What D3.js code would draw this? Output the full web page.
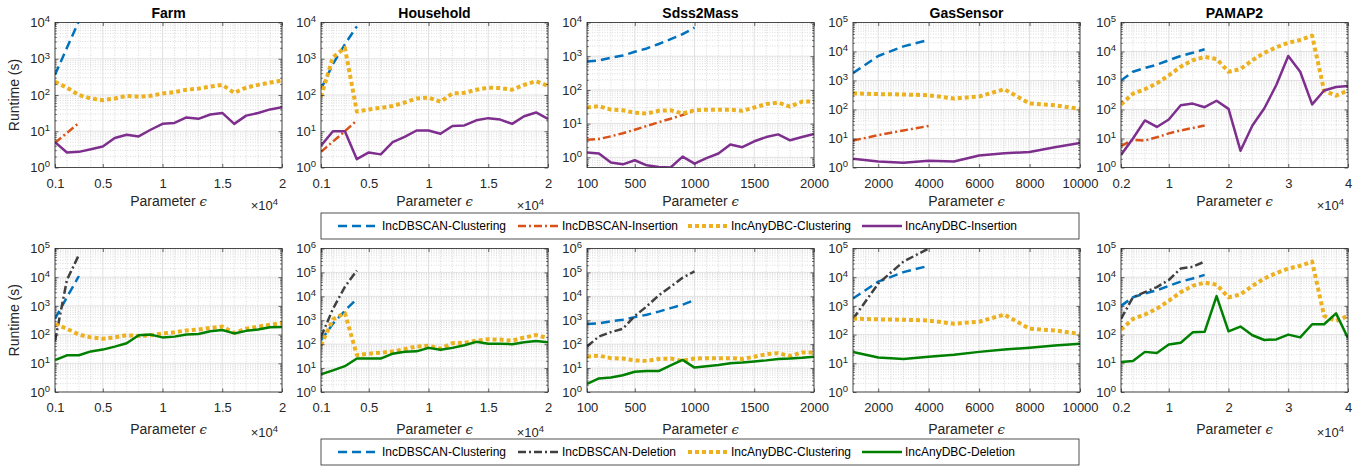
<!DOCTYPE html>
<html>
<head>
<meta charset="utf-8">
<script src="https://cdn.jsdelivr.net/npm/d3@7"></script>
<style>
  body { margin: 0; background: #fff; }
  svg { font-family: "Liberation Sans", Arial, Helvetica, sans-serif; }
</style>
</head>
<body>
<svg id="chart" width="1357" height="468"></svg>
<script>
// ---- x values (parameter epsilon) ----
const xFarm = [1000, 2000, 3000, 4000, 5000, 6000, 7000, 8000, 9000, 10000, 11000, 12000, 13000, 14000, 15000, 16000, 17000, 18000, 19000, 20000];
const xSdss = [100, 200, 300, 400, 500, 600, 700, 800, 900, 1000, 1100, 1200, 1300, 1400, 1500, 1600, 1700, 1800, 1900, 2000];
const xGas = [1000, 2000, 3000, 4000, 5000, 6000, 7000, 8000, 9000, 10000];
const xPamap = [2000, 4000, 6000, 8000, 10000, 12000, 14000, 16000, 18000, 20000, 22000, 24000, 26000, 28000, 30000, 32000, 34000, 36000, 38000, 40000];

// ---- tick labels ----
const farmTicks = [1000, 5000, 10000, 15000, 20000];
const farmTickLabels = ["0.1", "0.5", "1", "1.5", "2"];
const sdssTicks = [100, 500, 1000, 1500, 2000];
const sdssTickLabels = ["100", "500", "1000", "1500", "2000"];
const gasTicks = [2000, 4000, 6000, 8000, 10000];
const gasTickLabels = ["2000", "4000", "6000", "8000", "10000"];
const pamapTicks = [2000, 10000, 20000, 30000, 40000];
const pamapTickLabels = ["0.2", "1", "2", "3", "4"];

// ---- runtimes (s) ----
// Farm
const farmDbClu = [360, 2000, 11000];
const farmDbIns = [4.8, 9, 17];
const farmAnyClu = [230, 160, 100, 80, 72, 80, 95, 90, 95, 110, 120, 140, 150, 170, 190, 115, 160, 190, 220, 250];
const farmAnyIns = [5, 2.6, 2.7, 3.2, 3.8, 6.5, 8, 7.2, 11, 16, 17, 24, 22, 29, 32, 16, 27, 32, 40, 46];
const farmDbDel = [60, 8000, 60000];
const farmAnyDel = [13, 19, 19, 26, 30, 38, 50, 95, 100, 80, 85, 100, 105, 130, 145, 110, 135, 150, 180, 185];
// Household
const hhDbClu = [145, 720, 2500, 7800];
const hhDbIns = [2.7, 5.2, 10, 20];
const hhAnyClu = [90, 1100, 2000, 35, 40, 44, 50, 62, 80, 85, 65, 110, 115, 140, 160, 155, 140, 190, 240, 180];
const hhAnyIns = [4, 10, 10, 1.7, 2.6, 2.3, 5, 7, 10.5, 10.5, 8.5, 14, 14.5, 20, 23, 21, 16, 26, 33, 22];
const hhDbDel = [200, 3000, 25000, 120000];
const hhAnyDel = [5.5, 8, 12, 25, 25, 25, 40, 48, 50, 70, 58, 70, 90, 125, 105, 105, 100, 120, 135, 120];
// Sdss2Mass
const sdssDbClu = [700, 750, 900, 1050, 1350, 1700, 2300, 3200, 4500, 7000];
const sdssDbIns = [3.3, 3.5, 4.2, 5.2, 6.6, 8.5, 11, 14, 18, 24];
const sdssAnyClu = [30, 33, 26, 25, 21, 20, 24, 25, 20, 25, 26, 26, 26, 24, 30, 38, 42, 32, 45, 45];
const sdssAnyIns = [1.4, 1.3, 0.7, 0.62, 0.82, 0.58, 0.52, 0.5, 1.05, 0.65, 0.95, 1.3, 2.4, 2.0, 3.0, 4.0, 4.8, 3.2, 4.0, 4.9];
const sdssDbDel = [80, 210, 320, 440, 1500, 3800, 11000, 25000, 60000, 110000];
const sdssAnyDel = [2.2, 3.7, 4, 5, 7, 7.5, 7.5, 13, 22, 10.5, 12, 13.5, 16, 17, 19, 21, 24, 25, 27, 30];
// GasSensor
const gasDbClu = [1800, 7000, 15000, 25000];
const gasDbIns = [8.5, 13, 19, 27];
const gasAnyClu = [360, 340, 330, 310, 240, 280, 500, 160, 140, 105];
const gasAnyIns = [2.0, 1.6, 1.45, 1.7, 1.6, 2.6, 3.1, 3.4, 5, 7];
const gasDbDel = [350, 6000, 35000, 100000];
const gasAnyDel = [25, 16, 14, 17, 20, 25, 30, 35, 42, 48];
// PAMAP2
const pamDbClu = [1000, 2000, 2700, 3500, 5000, 7000, 9000, 12000];
const pamDbIns = [5.5, 9, 8.5, 11, 15, 19, 23, 28];
const pamAnyClu = [150, 350, 500, 800, 1500, 3000, 5000, 6500, 5500, 2000, 2500, 5000, 9000, 14000, 20000, 25000, 35000, 450, 300, 450];
const pamAnyIns = [2.7, 10, 42, 25, 45, 140, 160, 120, 200, 105, 3.8, 28, 110, 700, 7000, 2000, 150, 450, 600, 650];
const pamDbDel = [350, 2000, 3000, 4500, 8000, 20000, 23000, 35000];
const pamAnyDel = [11, 12, 25, 23, 45, 52, 120, 125, 2200, 130, 190, 95, 65, 68, 100, 80, 230, 230, 550, 75];

// ---- names ----
const datasetNames = ["Farm", "Household", "Sdss2Mass", "GasSensor", "PAMAP2"];
const legendTop = ["IncDBSCAN-Clustering", "IncDBSCAN-Insertion", "IncAnyDBC-Clustering", "IncAnyDBC-Insertion"];
const legendBottom = ["IncDBSCAN-Clustering", "IncDBSCAN-Deletion", "IncAnyDBC-Clustering", "IncAnyDBC-Deletion"];

// line styles
const styles = {
  "IncDBSCAN-Clustering": { color: "#0072BD", width: 2.5, dash: "9,5" },
  "IncDBSCAN-Insertion": { color: "#D95319", width: 2.5, dash: "8,3,2,3" },
  "IncDBSCAN-Deletion": { color: "#404040", width: 2.5, dash: "8,3,2,3" },
  "IncAnyDBC-Clustering": { color: "#EDB120", width: 4, dash: "4,3" },
  "IncAnyDBC-Insertion": { color: "#7E2F8E", width: 2.5, dash: null },
  "IncAnyDBC-Deletion": { color: "#008000", width: 2.5, dash: null }
};

const axes = [
  { x: xFarm, dom: [1000, 20000], ticks: farmTicks, labels: farmTickLabels, exp: true, minor: 1000 },
  { x: xFarm, dom: [1000, 20000], ticks: farmTicks, labels: farmTickLabels, exp: true, minor: 1000 },
  { x: xSdss, dom: [100, 2000], ticks: sdssTicks, labels: sdssTickLabels, exp: false, minor: 100 },
  { x: xGas, dom: [1000, 10000], ticks: gasTicks, labels: gasTickLabels, exp: false, minor: 500 },
  { x: xPamap, dom: [2000, 40000], ticks: pamapTicks, labels: pamapTickLabels, exp: true, minor: 2000 }
];

const topSeries = [
  [farmDbClu, farmDbIns, farmAnyClu, farmAnyIns],
  [hhDbClu, hhDbIns, hhAnyClu, hhAnyIns],
  [sdssDbClu, sdssDbIns, sdssAnyClu, sdssAnyIns],
  [gasDbClu, gasDbIns, gasAnyClu, gasAnyIns],
  [pamDbClu, pamDbIns, pamAnyClu, pamAnyIns]
];
const bottomSeries = [
  [farmDbClu, farmDbDel, farmAnyClu, farmAnyDel],
  [hhDbClu, hhDbDel, hhAnyClu, hhAnyDel],
  [sdssDbClu, sdssDbDel, sdssAnyClu, sdssAnyDel],
  [gasDbClu, gasDbDel, gasAnyClu, gasAnyDel],
  [pamDbClu, pamDbDel, pamAnyClu, pamAnyDel]
];
const topYDom = [[1, 1e4], [1, 1e4], [0.5, 1e4], [1, 1e5], [1, 1e5]];
const bottomYDom = [[1, 1e5], [1, 1e6], [1, 1e6], [1, 1e5], [1, 1e5]];

// ---- layout ----
const svg = d3.select("#chart");
const panelLeft = [55, 321, 587, 853, 1121];
const panelW = 227;
const rows = [
  { top: 22.5, bottom: 167.5, names: legendTop, series: topSeries, ydom: topYDom, title: true, xlab: 206, expY: 209.5, legY: 213 },
  { top: 248.5, bottom: 392, names: legendBottom, series: bottomSeries, ydom: bottomYDom, title: false, xlab: 434, expY: 436.5, legY: 439 }
];
const axisColor = "#262626";

function drawPanel(row, i, r) {
  const a = axes[i];
  const h = row.bottom - row.top, w = panelW;
  const x = d3.scaleLinear().domain(a.dom).range([0, w]);
  const y = d3.scaleLog().domain(row.ydom[i]).range([h, 0]);
  const g = svg.append("g").attr("transform", `translate(${panelLeft[i]},${row.top})`);
  const [lo, hi] = row.ydom[i];

  const decades = [], minorY = [];
  for (let e = Math.floor(Math.log10(lo)); e <= Math.ceil(Math.log10(hi)); e++) {
    const v = Math.pow(10, e);
    if (v >= lo && v <= hi) decades.push(v);
    for (let k = 2; k <= 9; k++) { const m = k * v; if (m > lo && m < hi) minorY.push(m); }
  }
  const minorX = d3.range(a.dom[0], a.dom[1] + 1, a.minor).filter(v => !a.ticks.includes(v));

  const grid = g.append("g");
  grid.selectAll(null).data(minorY).join("line")
    .attr("x1", 0).attr("x2", w).attr("y1", d => y(d)).attr("y2", d => y(d))
    .attr("stroke", "#c4c4c4").attr("stroke-width", 0.6).attr("stroke-dasharray", "1,1.5");
  grid.selectAll(null).data(minorX).join("line")
    .attr("y1", 0).attr("y2", h).attr("x1", d => x(d)).attr("x2", d => x(d))
    .attr("stroke", "#c4c4c4").attr("stroke-width", 0.6).attr("stroke-dasharray", "1,1.5");
  grid.selectAll(null).data(decades).join("line")
    .attr("x1", 0).attr("x2", w).attr("y1", d => y(d)).attr("y2", d => y(d))
    .attr("stroke", "#dedede").attr("stroke-width", 0.9);
  grid.selectAll(null).data(a.ticks).join("line")
    .attr("y1", 0).attr("y2", h).attr("x1", d => x(d)).attr("x2", d => x(d))
    .attr("stroke", "#dedede").attr("stroke-width", 0.9);

  // clip
  const cid = `clip-${r}-${i}`;
  g.append("clipPath").attr("id", cid).append("rect").attr("width", w).attr("height", h);
  const lines = g.append("g").attr("clip-path", `url(#${cid})`);
  row.series[i].forEach((vals, s) => {
    const st = styles[row.names[s]];
    const line = d3.line().x((d, j) => x(a.x[j])).y(d => y(d));
    lines.append("path").datum(vals).attr("d", line)
      .attr("fill", "none").attr("stroke", st.color).attr("stroke-width", st.width)
      .attr("stroke-dasharray", st.dash).attr("stroke-linejoin", "round");
  });

  // axes
  const styleAxis = sel => {
    sel.select(".domain").remove();
    sel.selectAll(".tick line").attr("stroke", axisColor).attr("stroke-width", 0.7);
    sel.attr("font-family", null).attr("font-size", 13);
    sel.selectAll(".tick text").attr("fill", axisColor);
  };
  const yl = g.append("g").call(d3.axisLeft(y).tickValues(decades).tickSize(-3.5).tickPadding(5).tickFormat(() => ""));
  styleAxis(yl);
  yl.selectAll(".tick text").each(function (d) {
    const t = d3.select(this);
    t.append("tspan").text("10");
    t.append("tspan").attr("dy", "-0.5em").attr("font-size", "9.5px").text(Math.round(Math.log10(d)));
  });
  g.append("g").call(d3.axisLeft(y).tickValues(minorY).tickSize(-1.8).tickFormat("")).call(styleAxis);
  g.append("g").attr("transform", `translate(${w},0)`).call(d3.axisRight(y).tickValues(decades).tickSize(-3.5).tickFormat("")).call(styleAxis);
  g.append("g").attr("transform", `translate(${w},0)`).call(d3.axisRight(y).tickValues(minorY).tickSize(-1.8).tickFormat("")).call(styleAxis);
  g.append("g").attr("transform", `translate(0,${h})`)
    .call(d3.axisBottom(x).tickValues(a.ticks).tickSize(-3.5).tickPadding(11).tickFormat((d, j) => a.labels[j]))
    .call(styleAxis);
  g.append("g").call(d3.axisTop(x).tickValues(a.ticks).tickSize(-3.5).tickFormat("")).call(styleAxis);

  g.append("rect").attr("width", w).attr("height", h)
    .attr("fill", "none").attr("stroke", axisColor).attr("stroke-width", 0.8);

  if (row.title) {
    g.append("text").attr("x", w / 2).attr("y", -4.5).attr("text-anchor", "middle")
      .attr("font-size", 14).attr("font-weight", "bold").attr("fill", "#000").text(datasetNames[i]);
  }
  g.append("text").attr("x", w / 2).attr("y", row.xlab - row.top).attr("text-anchor", "middle")
    .attr("font-size", 14).attr("fill", axisColor)
    .text("Parameter ").append("tspan").attr("font-family", "DejaVu Serif, serif").attr("font-style", "italic").attr("font-size", 13).text("\u03f5");
  if (a.exp) {
    const t = g.append("text").attr("x", w - 4).attr("y", row.expY - row.top).attr("text-anchor", "end")
      .attr("font-size", 13).attr("fill", axisColor);
    t.append("tspan").text("\u00d710");
    t.append("tspan").attr("dy", "-0.5em").attr("font-size", "9.5px").text("4");
  }
  if (i === 0) {
    svg.append("text").attr("transform", `translate(19,${row.top + h / 2}) rotate(-90)`)
      .attr("text-anchor", "middle").attr("font-size", 14).attr("fill", axisColor).text("Runtime (s)");
  }
}

function drawLegend(row) {
  const bx = 321, bw = 758, bh = 26;
  const lg = svg.append("g").attr("transform", `translate(0,${row.legY})`);
  lg.append("rect").attr("x", bx).attr("y", 0).attr("width", bw).attr("height", bh)
    .attr("fill", "#fff").attr("stroke", axisColor).attr("stroke-width", 0.8);
  const sampleX = [338, 518, 688, 862];
  const textX = [382, 562, 731, 905];
  row.names.forEach((n, k) => {
    const st = styles[n];
    lg.append("line").attr("x1", sampleX[k]).attr("x2", sampleX[k] + 40).attr("y1", bh / 2).attr("y2", bh / 2)
      .attr("stroke", st.color).attr("stroke-width", st.width).attr("stroke-dasharray", st.dash);
    lg.append("text").attr("x", textX[k]).attr("y", bh / 2 + 4.2).attr("font-size", 12).attr("fill", "#000").text(n);
  });
}

rows.forEach((row, r) => {
  datasetNames.forEach((n, i) => drawPanel(row, i, r));
  drawLegend(row);
});
</script>
</body>
</html>
